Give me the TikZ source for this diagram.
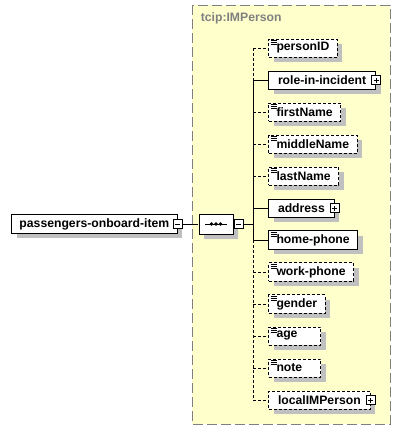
\documentclass[tikz,border=0pt]{standalone}
\usepackage{fontspec}
\setmainfont{Liberation Sans}
\usetikzlibrary{shadows,shapes.misc}

\definecolor{grpfill}{HTML}{FFFFCC}
\definecolor{grpline}{HTML}{808080}
\definecolor{shadowgray}{HTML}{C0C0C0}

\begin{document}
\begin{tikzpicture}[x=1pt, y=-1pt, line width=1pt,
	font=\fontsize{12.2}{14}\selectfont\bfseries,
	elem/.style = {draw, fill=white, anchor=west, minimum height=18pt, inner xsep=8pt,
		drop shadow={opacity=1, fill=shadowgray, shadow xshift=5pt, shadow yshift=-5pt}},
	haskids/.style = {inner xsep=9.5pt},
	opt/.style = {dash pattern=on 3pt off 2pt},
	simple/.style = {path picture={
		\foreach \k in {1,3,5}
			\draw[solid, line width=0.9pt] ([xshift=2pt, yshift=-\k pt]path picture bounding box.north west) -- ++(6pt,0);}},
	minusbox/.style = {draw, solid, fill=white, minimum size=9pt, inner sep=0pt,
		path picture={\draw[line width=0.9pt] ([xshift=2pt]path picture bounding box.west) -- ([xshift=-2pt]path picture bounding box.east);}},
	plusbox/.style = {draw, solid, fill=white, minimum size=9pt, inner sep=0pt,
		path picture={\draw[line width=0.9pt] ([xshift=2pt]path picture bounding box.west) -- ([xshift=-2pt]path picture bounding box.east);
			\draw[line width=0.9pt] ([yshift=2pt]path picture bounding box.south) -- ([yshift=-2pt]path picture bounding box.north);}}]

	\useasboundingbox (0,0) rectangle (401,431);

	% complex type group
	\draw[draw=grpline, fill=grpfill, dash pattern=on 10pt off 4pt] (192,5) rectangle (390,424);
	\node (grplabel) [anchor=west, text=grpline] at (197,18) {tcip:IMPerson};

	\node (pobitem) [elem] at (11,224) {passengers-onboard-item};
	\node (pobminus) [minusbox] at (pobitem.east) {};

	\node (seq) [chamfered rectangle, chamfered rectangle xsep=5pt, draw, fill=white,
		minimum width=34pt, minimum height=20pt, inner sep=0pt,
		drop shadow={opacity=1, fill=shadowgray, shadow xshift=5pt, shadow yshift=-5pt}] at (216,224) {};
	\draw ([xshift=-11pt]seq.center) -- ([xshift=11pt]seq.center);
	\foreach \d in {-4.5,0,4.5}
		\fill ([xshift=\d pt]seq.center) circle (1.9pt);
	\node (seqminus) [minusbox, anchor=west] at (seq.east) {};

	\draw (pobminus) -- (seq);

	\node (personid)   [elem, opt, simple]  at (268, 48) {personID};
	\node (role)       [elem, haskids]      at (268, 80) {role-in-incident};
	\node (firstname)  [elem, opt, simple]  at (268,112) {firstName};
	\node (middlename) [elem, opt, simple]  at (268,144) {middleName};
	\node (lastname)   [elem, opt, simple]  at (268,176) {lastName};
	\node (address)    [elem, haskids]      at (268,208) {address};
	\node (homephone)  [elem, simple]       at (268,240) {home-phone};
	\node (workphone)  [elem, opt, simple]  at (268,272) {work-phone};
	\node (gender)     [elem, opt, simple]  at (268,304) {gender};
	\node (age)        [elem, opt, simple, text width=36pt, align=left] at (268,336) {age};
	\node (note)       [elem, opt, simple, text width=36pt, align=left] at (268,368) {note};
	\node (localimp)   [elem, opt, haskids] at (268,400) {localIMPerson};

	\node (roleplus)     [plusbox] at (role.east) {};
	\node (addressplus)  [plusbox] at (address.east) {};
	\node (localimpplus) [plusbox] at (localimp.east) {};

	% sequence trunk
	\coordinate (trunk) at (253,224);
	\draw (seqminus) -- (trunk);
	\draw[opt] (trunk |- personid) -- (trunk |- role);
	\draw (trunk |- role) -- (trunk |- homephone);
	\draw[opt] (trunk |- homephone) -- (trunk |- localimp);

	\draw[opt] (trunk |- personid) -- (personid);
	\draw (trunk |- role) -- (role);
	\draw[opt] (trunk |- firstname) -- (firstname);
	\draw[opt] (trunk |- middlename) -- (middlename);
	\draw[opt] (trunk |- lastname) -- (lastname);
	\draw (trunk |- address) -- (address);
	\draw (trunk |- homephone) -- (homephone);
	\draw[opt] (trunk |- workphone) -- (workphone);
	\draw[opt] (trunk |- gender) -- (gender);
	\draw[opt] (trunk |- age) -- (age);
	\draw[opt] (trunk |- note) -- (note);
	\draw[opt] (trunk |- localimp) -- (localimp);
\end{tikzpicture}
\end{document}
